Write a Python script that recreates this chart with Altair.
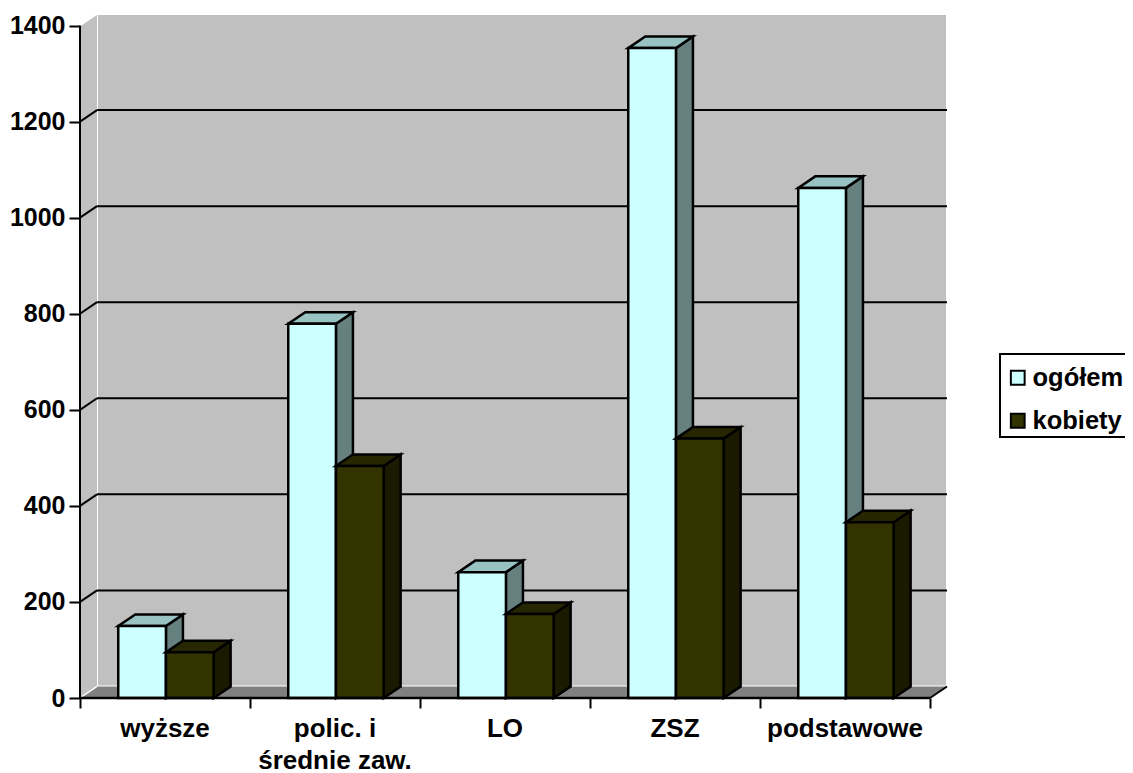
import altair as alt
import pandas as pd

categories = ["wyższe", "polic. i\nśrednie zaw.", "LO", "ZSZ", "podstawowe"]
ogolem = [150, 779, 262, 1353, 1062]
kobiety = [95, 483, 175, 540, 366]
series_names = ["ogółem", "kobiety"]
grid_values = [200, 400, 600, 800, 1000, 1200]
tick_values = [0, 200, 400, 600, 800, 1000, 1200, 1400]
cat_ticks = [0, 1, 2, 3, 4, 5]

FONT = "Liberation Sans"
DX, DY = 0.1, 24          # depth of the 3-D box in axis units
BAR_W = 0.2805
GAP = 0.225
YMAX = 1400
n = len(categories)

x_scale = alt.Scale(domain=[0, 867 / 170], nice=False, zero=False, padding=0)
y_scale = alt.Scale(domain=[0, YMAX + DY], nice=False, zero=False, padding=0)
x_axis = alt.Axis(values=cat_ticks, labels=False, domain=False, grid=False, title=None,
                  tickSize=10, tickWidth=2, tickColor="black")
y_axis = alt.Axis(values=tick_values, domain=False, grid=False, title=None, format="d",
                  tickSize=11, tickWidth=2, tickColor="black", labelPadding=4,
                  labelFont=FONT, labelFontSize=25, labelFontWeight="bold", labelColor="black")
X = lambda f: alt.X(f, type="quantitative", scale=x_scale, axis=x_axis)
Y = lambda f: alt.Y(f, type="quantitative", scale=y_scale, axis=y_axis, stack=None)


def faces(values, offset):
    front, side, top = [], [], []
    for i, v in enumerate(values):
        x0 = i + GAP + offset * BAR_W
        x1 = x0 + BAR_W
        front.append(dict(series=series_names[offset], x0=x0, x1=x1, y0=0, y1=v))
        side += [dict(c=i, x=x1, lo=0, hi=v), dict(c=i, x=x1 + DX, lo=DY, hi=v + DY)]
        top += [dict(c=i, y=v, a=x0, b=x1), dict(c=i, y=v + DY, a=x0 + DX, b=x1 + DX)]
    return pd.DataFrame(front), pd.DataFrame(side), pd.DataFrame(top)


def bar_layers(values, offset, top_col, side_col):
    front, side, top = faces(values, offset)
    s = (alt.Chart(side).mark_area(color=side_col, stroke="black", strokeWidth=2.5, fillOpacity=1)
         .encode(x=X("x"), y=Y("lo"), y2="hi", detail="c:N"))
    t = (alt.Chart(top).mark_area(orient="horizontal", color=top_col, stroke="black", strokeWidth=2.5, fillOpacity=1)
         .encode(y=Y("y"), x=X("a"), x2="b", detail="c:N"))
    f = (alt.Chart(front).mark_bar(stroke="black", strokeWidth=2.5, opacity=1)
         .encode(x=X("x0"), x2="x1", y=Y("y0"), y2="y1",
                 color=alt.Color("series:N",
                                 scale=alt.Scale(domain=series_names, range=["#CCFFFF", "#333300"]),
                                 legend=alt.Legend(orient="none", legendX=920, legendY=346, title=None,
                                                   padding=5,
                                                   labelFont=FONT, labelFontSize=25.5, labelFontWeight="bold",
                                                   labelColor="black", labelOffset=2, rowPadding=16,
                                                   symbolType="square", symbolSize=190,
                                                   symbolStrokeColor="black", symbolStrokeWidth=2,
                                                   labelLimit=300))))
    return [s, t, f]


# walls and floor
back = (alt.Chart(pd.DataFrame({"a": [DX], "b": [n + DX], "c": [DY], "d": [YMAX + DY]}))
        .mark_rect(color="#C0C0C0", stroke="white", strokeWidth=2)
        .encode(x=X("a"), x2="b", y=Y("c"), y2="d"))
left = (alt.Chart(pd.DataFrame({"x": [0, DX], "lo": [0, DY], "hi": [YMAX, YMAX + DY]}))
        .mark_area(color="#C0C0C0", fillOpacity=1)
        .encode(x=X("x"), y=Y("lo"), y2="hi"))
floor = (alt.Chart(pd.DataFrame({"y": [0, DY], "a": [0, DX], "b": [n, n + DX]}))
         .mark_area(orient="horizontal", color="#808080", fillOpacity=1)
         .encode(y=Y("y"), x=X("a"), x2="b"))

grid_df = pd.DataFrame({"v": grid_values})
grid_df["vb"] = grid_df.v + DY
grid_df["xa"] = DX
grid_df["xb"] = n + DX
grid_df["x0"] = 0.0
grids = (alt.Chart(grid_df).mark_rule(color="black", strokeWidth=2)
         .encode(x=X("xa"), x2="xb", y=Y("vb")))
diag = (alt.Chart(grid_df).mark_rule(color="black", strokeWidth=2)
        .encode(x=X("x0"), x2="xa", y=Y("v"), y2="vb"))
edge_df = pd.DataFrame({"v": [0, YMAX], "vb": [DY, YMAX + DY], "x0": [0.0, 0.0], "xa": [DX, DX]})
white_diag = (alt.Chart(edge_df).mark_rule(color="white", strokeWidth=1.5)
              .encode(x=X("x0"), x2="xa", y=Y("v"), y2="vb"))
floor_corner = (alt.Chart(pd.DataFrame({"a": [float(n)], "b": [n + DX], "c": [0], "d": [DY]}))
                .mark_rule(color="black", strokeWidth=2)
                .encode(x=X("a"), x2="b", y=Y("c"), y2="d"))

y_line = (alt.Chart(pd.DataFrame({"x": [0], "a": [0], "b": [YMAX]})).mark_rule(color="black", strokeWidth=2)
          .encode(x=X("x"), y=Y("a"), y2="b"))
x_line = (alt.Chart(pd.DataFrame({"y": [0], "a": [0], "b": [n]})).mark_rule(color="black", strokeWidth=2.5)
          .encode(y=Y("y"), x=X("a"), x2="b"))

cat_df = pd.DataFrame({"label": categories, "pos": [i + 0.5 for i in range(n)]})
cat_text = (alt.Chart(cat_df)
            .mark_text(font=FONT, fontSize=26, fontWeight="bold", color="black", align="center",
                       baseline="alphabetic", lineBreak="\n", lineHeight=32)
            .encode(x=X("pos"), y=alt.value(723), text="label:N"))

legend_box = (alt.Chart(pd.DataFrame({"k": ["box"]}))
              .mark_rect(fill="white", stroke="black", strokeWidth=2, clip=False)
              .encode(x=alt.value(920), x2=alt.value(1100), y=alt.value(340), y2=alt.value(423)))

layers = [back, left, floor, grids, diag, white_diag, floor_corner]
layers += bar_layers(ogolem, 0, "#99C2C2", "#668080")
layers += bar_layers(kobiety, 1, "#262600", "#1A1A00")
layers += [y_line, x_line, cat_text, legend_box]

chart = (alt.layer(*layers)
         .properties(width=867, height=684,
                     padding={"left": 72, "top": 6, "right": 178, "bottom": 75},
                     autosize=alt.AutoSizeParams(type="none"), background="white")
         .configure_view(stroke=None))

chart.save("out.html", embed_options={"renderer": "svg", "actions": False})
